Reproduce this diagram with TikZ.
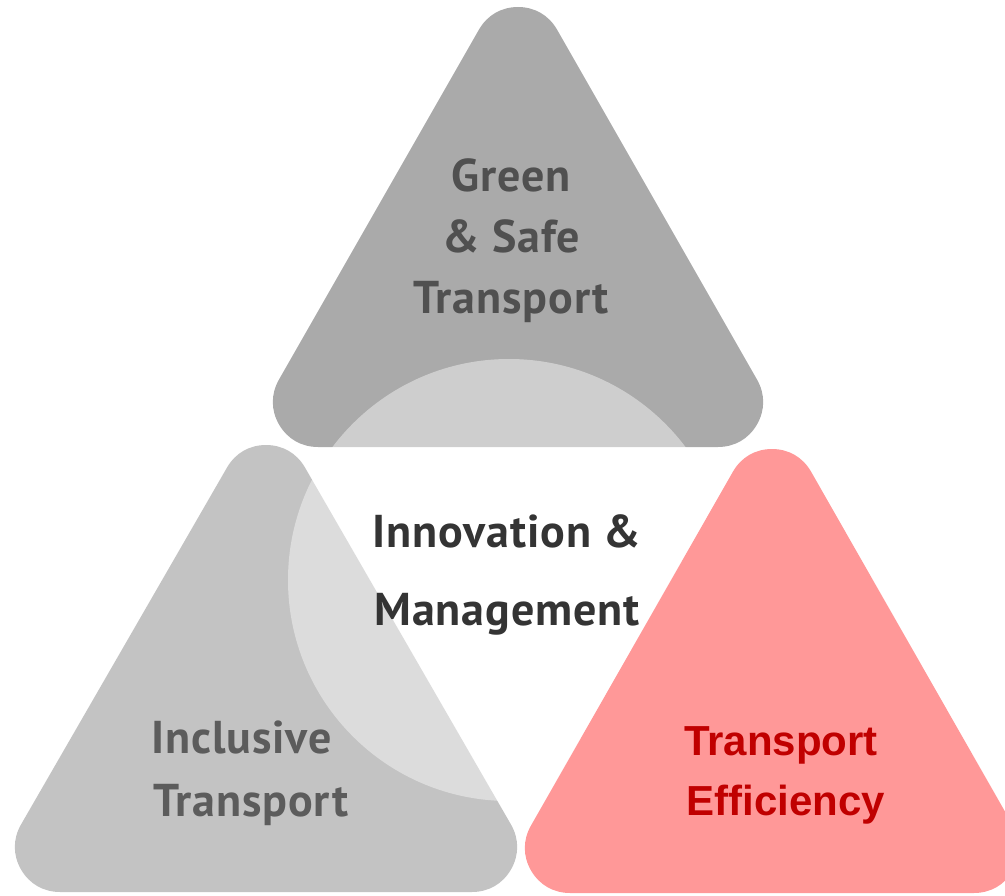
\documentclass[tikz,border=0pt]{standalone}
\usepackage{fontspec}
\setmainfont{PT Sans}[LetterSpace=2]
\newfontfamily\arialfont{Liberation Sans}
\definecolor{topgray}{RGB}{170,170,170}
\definecolor{leftgray}{RGB}{195,195,195}
\definecolor{pinkfill}{RGB}{255,152,152}
\definecolor{toptext}{RGB}{80,80,80}
\definecolor{midtext}{RGB}{52,52,52}
\definecolor{lefttext}{RGB}{92,92,92}
\definecolor{redtext}{RGB}{192,0,0}
\begin{document}
\begin{tikzpicture}[x=1pt,y=-1pt,
  tri/.style={line width=90pt, line join=round},
  din/.style={anchor=base, inner sep=0pt, font=\bfseries\fontsize{46}{54}\selectfont},
  arl/.style={anchor=base, inner sep=0pt, font=\arialfont\bfseries\fontsize{42}{50}\selectfont, text=redtext}]
\useasboundingbox (0,0) rectangle (1005,896);
\clip (0,0) rectangle (1005,896);
% triangles
\filldraw[tri, fill=topgray, draw=topgray] (518,52) -- (718,402) -- (318,402) -- cycle;
\filldraw[tri, fill=leftgray, draw=leftgray] (266,490) -- (472,847) -- (60,847) -- cycle;
% circle
\fill[white, fill opacity=0.43] (509,580) circle (221pt);
\filldraw[tri, fill=pinkfill, draw=pinkfill] (772,494) -- (974,848) -- (570,848) -- cycle;
% texts
\node[din, text=toptext] (g1) at (511,192) {Green};
\node[din, text=toptext] (g2) at (511,253) {\& Safe};
\node[din, text=toptext] (g3) at (511,314) {Transport};
\node[din, text=midtext] (m1) at (507,547) {Innovation \&};
\node[din, text=midtext] (m2) at (507,625) {Management};
\node[din, text=lefttext, anchor=base west] (i1) at (151,753) {Inclusive};
\node[din, text=lefttext, anchor=base west] (i2) at (153,816) {Transport};
\node[arl] (e1) at (781,755) {Transport};
\node[arl] (e2) at (786,815) {Efficiency};
\end{tikzpicture}
\end{document}
